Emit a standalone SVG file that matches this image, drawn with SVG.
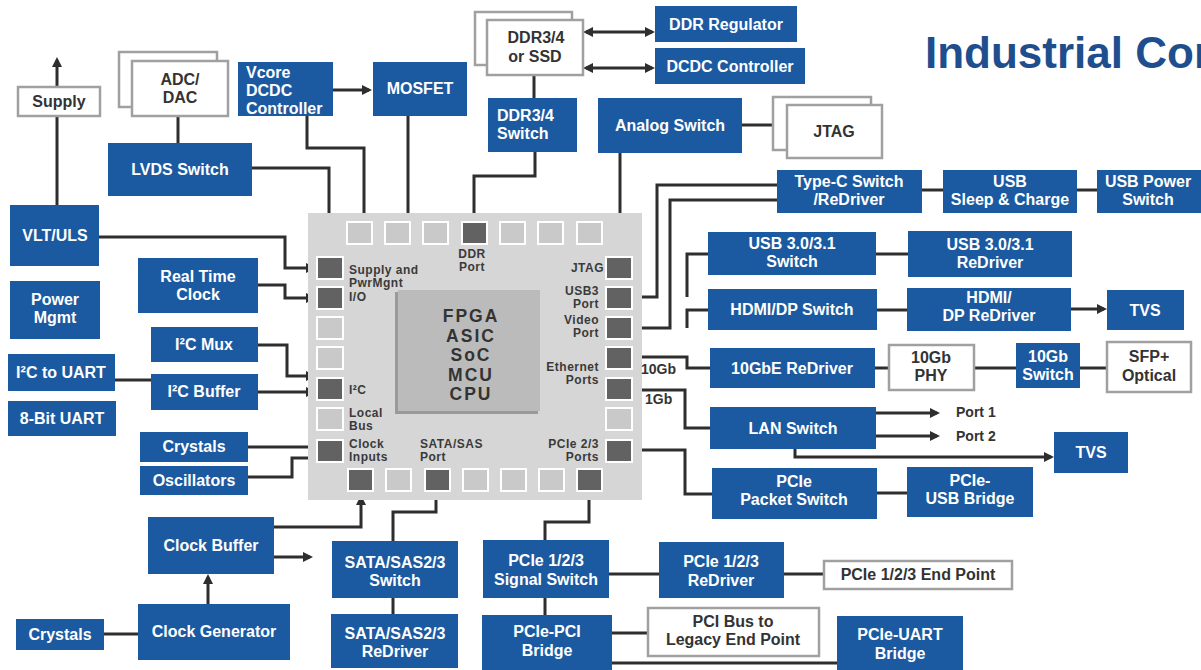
<svg xmlns="http://www.w3.org/2000/svg" width="1201" height="670" viewBox="0 0 1201 670">
<defs>
<style>
.b{fill:#1b5aa0}
.w{fill:#fff;stroke:#a0a0a0;stroke-width:2.5}
.t{font-family:"Liberation Sans",Arial,sans-serif;font-weight:700;font-size:16px;fill:#fff;text-anchor:middle}
.tl{text-anchor:start}
.d{fill:#333}
.c{font-family:"Liberation Sans",Arial,sans-serif;font-weight:700;font-size:12px;letter-spacing:0.5px;fill:#3a3a3a}
.r{text-anchor:end}
.m{text-anchor:middle}
.p{font-family:"Liberation Sans",Arial,sans-serif;font-weight:700;font-size:14px;fill:#333}
.ln{fill:none;stroke:#2e2e2e;stroke-width:3}
.a{marker-end:url(#ah)}
.aa{marker-start:url(#ah);marker-end:url(#ah)}
.pl{fill:#c9c9c9;stroke:#fff;stroke-width:2}
.pd{fill:#626262;stroke:#fff;stroke-width:2}
.fp{font-family:"Liberation Sans",Arial,sans-serif;font-weight:700;font-size:17.5px;letter-spacing:2px;fill:#333;text-anchor:middle}
</style>
<marker id="ah" markerUnits="userSpaceOnUse" markerWidth="11" markerHeight="11" refX="7" refY="5" orient="auto-start-reverse"><path d="M0,0 L10,5 L0,10 z" fill="#2e2e2e"/></marker>
</defs>
<rect width="1201" height="670" fill="#fff"/>

<text x="925" y="68" font-family="Liberation Sans, Arial, sans-serif" font-weight="700" font-size="44" fill="#1f4e8e">Industrial Cor</text>

<g id="connectors">
<path class="ln" d="M57,205 V115"/>
<path class="ln a" d="M57,87 V60"/>
<path class="ln" d="M178,116 V143"/>
<path class="ln a" d="M333,90 H369"/>
<path class="ln" d="M307,116 V148 H364 V222"/>
<path class="ln" d="M408,116 V222"/>
<path class="ln a" d="M252,168 H329 V251"/>
<path class="ln" d="M534,75 V98"/>
<path class="ln" d="M535,152 V176 H474 V222"/>
<path class="ln aa" d="M586,32 H652"/>
<path class="ln aa" d="M586,68 H652"/>
<path class="ln" d="M742,125 H773"/>
<path class="ln" d="M620,153 V257"/>
<path class="ln" d="M777,185 H657 V297 H633"/>
<path class="ln" d="M777,200 H670 V328 H633"/>
<path class="ln" d="M708,254 H687 V297"/>
<path class="ln" d="M708,310 H687 V328"/>
<path class="ln" d="M876,254 H908"/>
<path class="ln" d="M877,310 H907"/>
<path class="ln a" d="M1071,309 H1104"/>
<path class="ln" d="M922,190 H943"/>
<path class="ln" d="M1077,190 H1097"/>
<path class="ln" d="M633,357 H687 V368 H710"/>
<path class="ln" d="M875,368 H889"/>
<path class="ln" d="M974,368 H1016"/>
<path class="ln" d="M1080,368 H1107"/>
<path class="ln" d="M633,390 H685 V428 H710"/>
<path class="ln a" d="M876,413 H937"/>
<path class="ln a" d="M876,436 H937"/>
<path class="ln a" d="M795,449 V457 H1051"/>
<path class="ln" d="M633,450 H685 V494 H712"/>
<path class="ln" d="M877,493 H907"/>
<path class="ln" d="M589,490 V522 H545 V540"/>
<path class="ln" d="M609,574 H659"/>
<path class="ln" d="M784,574 H824"/>
<path class="ln" d="M545,598 V615"/>
<path class="ln" d="M612,633 H648"/>
<path class="ln" d="M612,663 H837"/>
<path class="ln" d="M436,490 V512 H393 V541"/>
<path class="ln" d="M393,598 V614"/>
<path class="ln a" d="M274,527 H361 V498"/>
<path class="ln a" d="M274,557 H310"/>
<path class="ln a" d="M208,604 V577"/>
<path class="ln" d="M104,634 H138"/>
<path class="ln" d="M248,447 H317"/>
<path class="ln" d="M248,477 H292 V458 H317"/>
<path class="ln a" d="M99,237 H285 V268 H313"/>
<path class="ln a" d="M258,285 H285 V298 H313"/>
<path class="ln a" d="M258,345 H287 V376 H313"/>
<path class="ln a" d="M258,392 H313"/>
<path class="ln" d="M115,380 H151"/>
</g>

<g id="chip">
<rect x="308" y="213" width="334" height="287" fill="#d6d6d6"/>
<rect x="395" y="292" width="143" height="122" fill="#9a9a9a"/>
<rect x="398" y="290" width="142" height="121" fill="#bbbbbb"/>
<text class="fp" x="471" y="322">FPGA<tspan x="471" dy="19.6">ASIC</tspan><tspan x="471" dy="19.6">SoC</tspan><tspan x="471" dy="19.6">MCU</tspan><tspan x="471" dy="19.6">CPU</tspan></text>
<rect class="pl" x="347" y="222" width="25" height="22"/>
<rect class="pl" x="385" y="222" width="25" height="22"/>
<rect class="pl" x="423" y="222" width="25" height="22"/>
<rect class="pd" x="462" y="222" width="25" height="22"/>
<rect class="pl" x="500" y="222" width="25" height="22"/>
<rect class="pl" x="538" y="222" width="25" height="22"/>
<rect class="pl" x="577" y="222" width="25" height="22"/>
<rect class="pd" x="317" y="257" width="26" height="22"/>
<rect class="pd" x="317" y="287" width="26" height="22"/>
<rect class="pl" x="317" y="317" width="26" height="22"/>
<rect class="pl" x="317" y="347" width="26" height="22"/>
<rect class="pd" x="317" y="378" width="26" height="22"/>
<rect class="pl" x="317" y="408" width="26" height="22"/>
<rect class="pd" x="317" y="440" width="26" height="22"/>
<rect class="pd" x="606" y="257" width="26" height="22"/>
<rect class="pd" x="606" y="287" width="26" height="22"/>
<rect class="pd" x="606" y="317" width="26" height="22"/>
<rect class="pd" x="606" y="347" width="26" height="22"/>
<rect class="pd" x="606" y="378" width="26" height="22"/>
<rect class="pl" x="606" y="408" width="26" height="22"/>
<rect class="pd" x="606" y="440" width="26" height="22"/>
<rect class="pd" x="348" y="469" width="25" height="22"/>
<rect class="pl" x="386" y="469" width="25" height="22"/>
<rect class="pd" x="425" y="469" width="25" height="22"/>
<rect class="pl" x="463" y="469" width="25" height="22"/>
<rect class="pl" x="501" y="469" width="25" height="22"/>
<rect class="pl" x="539" y="469" width="25" height="22"/>
<rect class="pd" x="577" y="469" width="25" height="22"/>
<text class="c" x="349" y="274">Supply and<tspan x="349" dy="13.4">PwrMgnt</tspan><tspan x="349" dy="13.4">I/O</tspan></text>
<text class="c m" x="472" y="258">DDR<tspan x="472" dy="13.4">Port</tspan></text>
<text class="c r" x="604" y="272">JTAG</text>
<text class="c r" x="599" y="295">USB3<tspan x="599" dy="13.4">Port</tspan></text>
<text class="c r" x="599" y="324">Video<tspan x="599" dy="13.4">Port</tspan></text>
<text class="c r" x="599" y="371">Ethernet<tspan x="599" dy="13.4">Ports</tspan></text>
<text class="c" x="349" y="394">I²C</text>
<text class="c" x="349" y="417">Local<tspan x="349" dy="13.4">Bus</tspan></text>
<text class="c" x="349" y="448">Clock<tspan x="349" dy="13.4">Inputs</tspan></text>
<text class="c" x="420" y="448">SATA/SAS<tspan x="420" dy="13.4">Port</tspan></text>
<text class="c r" x="599" y="448">PCIe 2/3<tspan x="599" dy="13.4">Ports</tspan></text>
</g>

<g id="supply"><rect class="w" x="18" y="87" width="82" height="29"/><text class="t d" x="59" y="107">Supply</text></g>
<g id="adc"><rect class="w" x="119" y="52" width="98" height="55"/><rect class="w" x="132" y="61" width="96" height="55"/><text class="t d" x="180" y="85">ADC/<tspan x="180" dy="18">DAC</tspan></text></g>
<g id="vcore"><rect class="b" x="238" y="62" width="95" height="54"/><text class="t tl" x="246" y="78">Vcore<tspan x="246" dy="18">DCDC</tspan><tspan x="246" dy="18">Controller</tspan></text></g>
<g id="mosfet"><rect class="b" x="373" y="62" width="94" height="54"/><text class="t" x="420" y="94">MOSFET</text></g>
<g id="lvds"><rect class="b" x="108" y="143" width="144" height="53"/><text class="t" x="180" y="175">LVDS Switch</text></g>
<g id="ddrmem"><rect class="w" x="475" y="12" width="97" height="53"/><rect class="w" x="487" y="20" width="96" height="55"/><text class="t d" x="536" y="43">DDR3/4<tspan x="535" dy="19">or SSD</tspan></text></g>
<g id="ddrreg"><rect class="b" x="655" y="6" width="142" height="36"/><text class="t" x="726" y="30">DDR Regulator</text></g>
<g id="dcdc"><rect class="b" x="655" y="48" width="150" height="36"/><text class="t" x="730" y="72">DCDC Controller</text></g>
<g id="ddrsw"><rect class="b" x="488" y="98" width="89" height="54"/><text class="t tl" x="497" y="121">DDR3/4<tspan x="497" dy="18">Switch</tspan></text></g>
<g id="analog"><rect class="b" x="598" y="98" width="144" height="55"/><text class="t" x="670" y="131">Analog Switch</text></g>
<g id="jtag"><rect class="w" x="773" y="97" width="98" height="53"/><rect class="w" x="787" y="105" width="95" height="53"/><text class="t d" x="834" y="137">JTAG</text></g>
<g id="typec"><rect class="b" x="777" y="170" width="145" height="43"/><text class="t" x="849" y="187">Type-C Switch<tspan x="849" dy="18">/ReDriver</tspan></text></g>
<g id="sleep"><rect class="b" x="943" y="170" width="134" height="43"/><text class="t" x="1010" y="187">USB<tspan x="1010" dy="18">Sleep &amp; Charge</tspan></text></g>
<g id="usbpwr"><rect class="b" x="1097" y="170" width="110" height="43"/><text class="t" x="1148" y="187">USB Power<tspan x="1148" dy="18">Switch</tspan></text></g>
<g id="vlt"><rect class="b" x="10" y="205" width="89" height="61"/><text class="t" x="55" y="241">VLT/ULS</text></g>
<g id="pwr"><rect class="b" x="10" y="281" width="90" height="58"/><text class="t" x="55" y="305">Power<tspan x="55" dy="18">Mgmt</tspan></text></g>
<g id="rtc"><rect class="b" x="138" y="258" width="120" height="55"/><text class="t" x="198" y="282">Real Time<tspan x="198" dy="18">Clock</tspan></text></g>
<g id="i2cmux"><rect class="b" x="151" y="327" width="107" height="35"/><text class="t" x="204" y="350">I²C Mux</text></g>
<g id="i2cbuf"><rect class="b" x="151" y="374" width="107" height="36"/><text class="t" x="204" y="397">I²C Buffer</text></g>
<g id="i2cuart"><rect class="b" x="8" y="354" width="107" height="37"/><text class="t" x="61" y="378">I²C to UART</text></g>
<g id="uart8"><rect class="b" x="8" y="401" width="108" height="35"/><text class="t" x="62" y="424">8-Bit UART</text></g>
<g id="crystals1"><rect class="b" x="140" y="432" width="108" height="30"/><text class="t" x="194" y="452">Crystals</text></g>
<g id="osc"><rect class="b" x="140" y="466" width="108" height="29"/><text class="t" x="194" y="486">Oscillators</text></g>
<g id="clkbuf"><rect class="b" x="148" y="517" width="126" height="57"/><text class="t" x="211" y="551">Clock Buffer</text></g>
<g id="clkgen"><rect class="b" x="138" y="604" width="152" height="56"/><text class="t" x="214" y="637">Clock Generator</text></g>
<g id="crystals2"><rect class="b" x="16" y="619" width="88" height="31"/><text class="t" x="60" y="640">Crystals</text></g>
<g id="satasw"><rect class="b" x="332" y="541" width="126" height="57"/><text class="t" x="395" y="568">SATA/SAS2/3<tspan x="395" dy="18">Switch</tspan></text></g>
<g id="satard"><rect class="b" x="331" y="614" width="127" height="54"/><text class="t" x="395" y="639">SATA/SAS2/3<tspan x="395" dy="18">ReDriver</tspan></text></g>
<g id="pciesig"><rect class="b" x="483" y="540" width="126" height="58"/><text class="t" x="546" y="566">PCIe 1/2/3<tspan x="546" dy="18.5">Signal Switch</tspan></text></g>
<g id="pcierd"><rect class="b" x="659" y="542" width="125" height="56"/><text class="t" x="721" y="567">PCIe 1/2/3<tspan x="721" dy="18.5">ReDriver</tspan></text></g>
<g id="endpoint"><rect class="w" x="824" y="561" width="188" height="28"/><text class="t d" x="918" y="580" font-size="14.5">PCIe 1/2/3 End Point</text></g>
<g id="pciepci"><rect class="b" x="482" y="615" width="130" height="55"/><text class="t" x="547" y="637">PCIe-PCI<tspan x="547" dy="18.5">Bridge</tspan></text></g>
<g id="legacy"><rect class="w" x="648" y="608" width="171" height="48"/><text class="t d" x="733" y="627">PCI Bus to<tspan x="733" dy="18">Legacy End Point</tspan></text></g>
<g id="pcieuart"><rect class="b" x="837" y="616" width="126" height="54"/><text class="t" x="900" y="640">PCIe-UART<tspan x="900" dy="18.5">Bridge</tspan></text></g>
<g id="usbsw"><rect class="b" x="708" y="232" width="168" height="43"/><text class="t" x="792" y="249">USB 3.0/3.1<tspan x="792" dy="18">Switch</tspan></text></g>
<g id="usbrd"><rect class="b" x="908" y="231" width="164" height="46"/><text class="t" x="990" y="250">USB 3.0/3.1<tspan x="990" dy="18">ReDriver</tspan></text></g>
<g id="hdmisw"><rect class="b" x="708" y="289" width="169" height="41"/><text class="t" x="792" y="315">HDMI/DP Switch</text></g>
<g id="hdmird"><rect class="b" x="907" y="288" width="164" height="43"/><text class="t" x="989" y="303">HDMI/<tspan x="989" dy="18">DP ReDriver</tspan></text></g>
<g id="tvs1"><rect class="b" x="1107" y="290" width="77" height="40"/><text class="t" x="1145" y="316">TVS</text></g>
<g id="gbe"><rect class="b" x="710" y="348" width="165" height="40"/><text class="t" x="792" y="374">10GbE ReDriver</text></g>
<g id="phy"><rect class="w" x="889" y="345" width="85" height="45"/><text class="t d" x="931" y="363">10Gb<tspan x="931" dy="18">PHY</tspan></text></g>
<g id="gbsw"><rect class="b" x="1016" y="343" width="64" height="45"/><text class="t" x="1048" y="362">10Gb<tspan x="1048" dy="18">Switch</tspan></text></g>
<g id="sfp"><rect class="w" x="1107" y="342" width="84" height="50"/><text class="t d" x="1149" y="362">SFP+<tspan x="1149" dy="19">Optical</tspan></text></g>
<g id="lan"><rect class="b" x="710" y="407" width="166" height="42"/><text class="t" x="793" y="434">LAN Switch</text></g>
<g id="ports"><text class="p" x="956" y="417">Port 1</text><text class="p" x="956" y="441">Port 2</text><text class="p" x="641" y="374" font-size="13">10Gb</text><text class="p" x="645" y="404" font-size="13">1Gb</text></g>
<g id="tvs2"><rect class="b" x="1054" y="432" width="74" height="41"/><text class="t" x="1091" y="458">TVS</text></g>
<g id="pktsw"><rect class="b" x="712" y="468" width="165" height="51"/><text class="t" x="794" y="487">PCIe<tspan x="794" dy="18">Packet Switch</tspan></text></g>
<g id="usbbr"><rect class="b" x="907" y="467" width="126" height="50"/><text class="t" x="970" y="486">PCIe-<tspan x="970" dy="18">USB Bridge</tspan></text></g>
</svg>
